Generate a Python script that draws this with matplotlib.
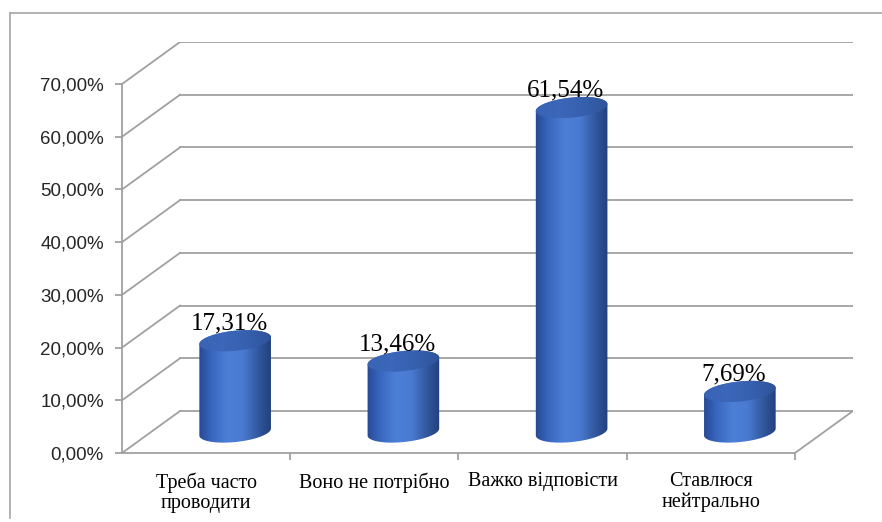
import numpy as np
import matplotlib.pyplot as plt
from matplotlib.path import Path
from matplotlib.patches import PathPatch
from matplotlib.transforms import IdentityTransform
from matplotlib.colors import LinearSegmentedColormap
from matplotlib.lines import Line2D

# data
categories = ['Треба часто\nпроводити', 'Воно не потрібно', 'Важко відповісти', 'Ставлюся\nнейтрально']
values = [17.31, 13.46, 61.54, 7.69]
labels = ['17,31%', '13,46%', '61,54%', '7,69%']
yticks = [0, 10, 20, 30, 40, 50, 60, 70]
ytick_labels = ['0,00%', '10,00%', '20,00%', '30,00%', '40,00%', '50,00%', '60,00%', '70,00%']

# fake 3d depth (in data units)
dx = 0.345
dy = 7.97
grid_col = '#a0a0a0'

fig = plt.figure(figsize=(8.82, 5.22), dpi=100)
ax = fig.add_axes([122/882, 69/522, (853-122)/882, (480-69)/522])
ax.set_xlim(0, len(values) + dx)
ax.set_ylim(0, 70 + dy)
ax.set_autoscale_on(False)
ax.patch.set_visible(False)

for s in ['top', 'right']:
    ax.spines[s].set_visible(False)
ax.spines['left'].set_bounds(0, 70)
ax.spines['bottom'].set_bounds(0, len(values))
for s in ['left', 'bottom']:
    ax.spines[s].set_color(grid_col)
    ax.spines[s].set_linewidth(1.3)

ax.set_yticks(yticks)
ax.set_yticklabels(ytick_labels, fontsize=13.5, family='Liberation Sans', color='#262626')
ax.tick_params(axis='y', length=5, color=grid_col, width=1.3, pad=8)
ax.set_xticks(range(1, len(values) + 1))
ax.set_xticklabels([])
ax.tick_params(axis='x', length=5, color=grid_col, width=1.3)
ax.set_xticks(np.arange(len(values)) + 0.5, minor=True)
ax.set_xticklabels(categories, minor=True, fontsize=14.5, family='Liberation Serif', linespacing=1.1)
ax.tick_params(axis='x', which='minor', length=0, pad=14)

# walls / grid
for v in yticks:
    ax.plot([0, dx], [v, v + dy], color=grid_col, lw=1.3, zorder=1)
    ax.plot([dx, len(values) + dx], [v + dy, v + dy], color=grid_col, lw=1.3, zorder=1)
ax.plot([len(values), len(values) + dx], [0, dy], color=grid_col, lw=1.3, zorder=1)

# cylinders
body_cmap = LinearSegmentedColormap.from_list('body', ['#24458f', '#3a68c0', '#4c7fd7', '#4a7bd2', '#33599f', '#1f3c7a'])
top_cmap = LinearSegmentedColormap.from_list('top', ['#3a63b3', '#3c67ba', '#3660ae', '#2d5298'])
half_w = 36.0
b = 10.0
ang = np.deg2rad(6)
rot = np.array([[np.cos(ang), -np.sin(ang)], [np.sin(ang), np.cos(ang)]])
inv = ax.transData.inverted()


def ell(c, t):
    pts = np.stack([half_w * np.cos(t), b * np.sin(t)])
    return (rot @ pts).T + c


for i, v in enumerate(values):
    xc = i + 0.5 + dx / 2
    base = ax.transData.transform((xc, dy / 2))
    top = ax.transData.transform((xc, v + dy / 2))
    lower = ell(base, np.linspace(np.pi, 2 * np.pi, 60))
    upper = ell(top, np.linspace(0, np.pi, 60))
    verts = np.vstack([lower, upper, lower[:1]])
    body = PathPatch(Path(verts, closed=True), transform=IdentityTransform(), fc='none', ec='none')
    ax.add_patch(body)
    x0 = inv.transform((base[0] - half_w - 2, 0))[0]
    x1 = inv.transform((base[0] + half_w + 2, 0))[0]
    ax.imshow(np.linspace(0, 1, 256)[None, :], cmap=body_cmap, extent=[x0, x1, 0, v + dy],
              aspect='auto', clip_path=body, zorder=3, interpolation='bilinear')

    cap = ell(top, np.linspace(0, 2 * np.pi, 120))
    cap_patch = PathPatch(Path(cap, closed=True), transform=IdentityTransform(), fc='none', ec='none')
    ax.add_patch(cap_patch)
    ax.imshow(np.linspace(0, 1, 256)[None, :], cmap=top_cmap, extent=[x0, x1, 0, v + dy + 5],
              aspect='auto', clip_path=cap_patch, zorder=4, interpolation='bilinear')

    ax.annotate(labels[i], (xc, v + dy / 2), xytext=(-6, 11), textcoords='offset pixels',
                ha='center', va='baseline', fontsize=18, family='Liberation Serif', zorder=5)

ax.set_xlim(0, len(values) + dx)
ax.set_ylim(0, 70 + dy)

# chart border
fig.add_artist(Line2D([10/882, 10/882], [1 - 13/522, 1 - 518/522], color='#a6a6a6', lw=1.2))
fig.add_artist(Line2D([10/882, 1.0], [1 - 13/522, 1 - 13/522], color='#a6a6a6', lw=1.2))

fig.savefig('out.png', dpi=100)
